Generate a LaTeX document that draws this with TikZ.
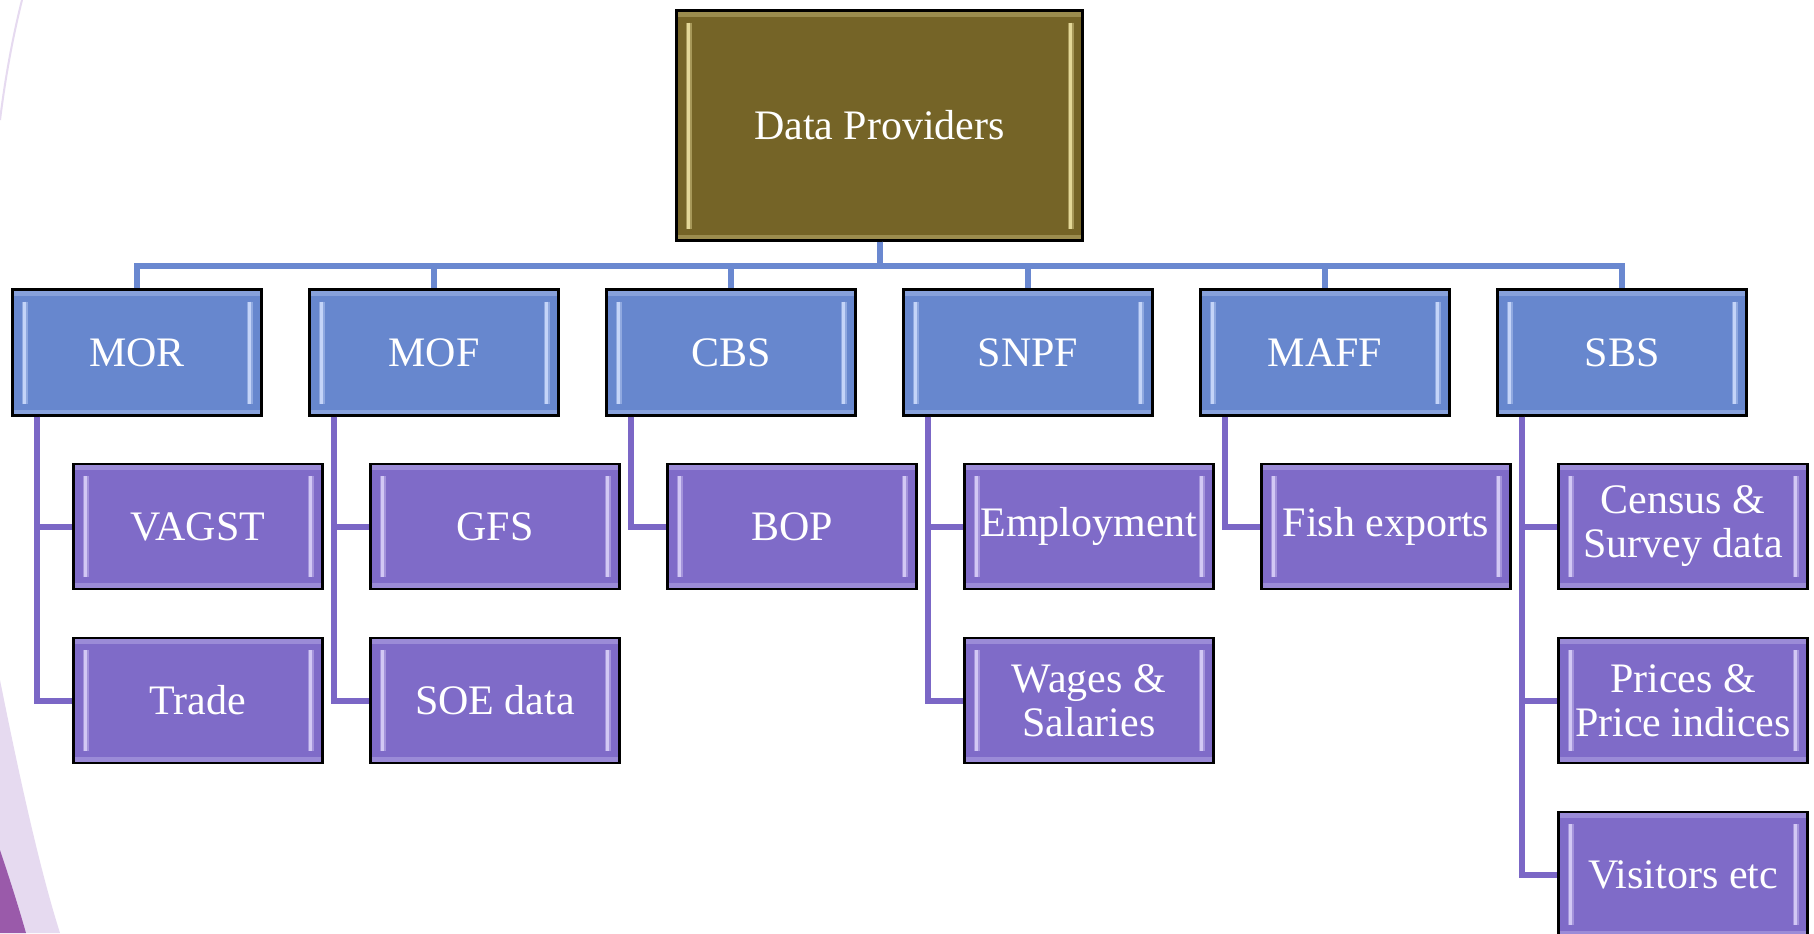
\documentclass[tikz,border=0pt]{standalone}
\usepackage{fontspec}
\setmainfont{Liberation Serif}

\definecolor{rootfill}{HTML}{756427}
\definecolor{rootlight}{HTML}{E4D898}
\definecolor{orgfill}{HTML}{6787CE}
\definecolor{orglight}{HTML}{C4D4F8}
\definecolor{itemfill}{HTML}{7F6BC8}
\definecolor{itemlight}{HTML}{D2C8F4}
\definecolor{busline}{HTML}{6A88D0}
\definecolor{linkline}{HTML}{7B67C6}
\definecolor{swooshlight}{HTML}{E6DAF0}
\definecolor{swooshdark}{HTML}{9A5AAA}

\tikzset{
  % light bevel strips inside the boxes
  bevel/.style={path picture={
    \fill[#1, opacity=.35] (path picture bounding box.north west) rectangle ([yshift=-3pt]path picture bounding box.north east);
    \fill[#1, opacity=.35] (path picture bounding box.south west) rectangle ([yshift=3pt]path picture bounding box.south east);
    \draw[#1, line width=3pt, opacity=.45] ([xshift=6pt,yshift=-6pt]path picture bounding box.north west) -- ([xshift=6pt,yshift=6pt]path picture bounding box.south west);
    \draw[#1, line width=1.2pt] ([xshift=6pt,yshift=-6pt]path picture bounding box.north west) -- ([xshift=6pt,yshift=6pt]path picture bounding box.south west);
    \draw[#1, line width=3pt, opacity=.45] ([xshift=-6pt,yshift=-6pt]path picture bounding box.north east) -- ([xshift=-6pt,yshift=6pt]path picture bounding box.south east);
    \draw[#1, line width=1.2pt] ([xshift=-6pt,yshift=-6pt]path picture bounding box.north east) -- ([xshift=-6pt,yshift=6pt]path picture bounding box.south east);
  }},
  box/.style={draw=black, line width=1.2pt, rectangle, text=white, align=center,
    inner sep=0pt, font=\fontsize{21}{22}\selectfont},
  rootbox/.style={box, fill=rootfill, minimum width=203pt, minimum height=115pt, bevel=rootlight},
  orgbox/.style={box, fill=orgfill, minimum width=124.5pt, minimum height=63pt, bevel=orglight},
  itembox/.style={box, fill=itemfill, minimum width=124.5pt, minimum height=62.5pt, bevel=itemlight},
  bus/.style={draw=busline, line width=3pt},
  link/.style={draw=linkline, line width=3pt}
}

\begin{document}
\begin{tikzpicture}[x=0.5pt, y=-0.5pt, node distance=148.5pt]
  \useasboundingbox[fill=white] (0,0) rectangle (1814,933);

  % purple swoosh at the left edge
  \fill[swooshlight] (0,680) .. controls (20,780) and (40,870) .. (60,933) -- (0,933) -- cycle;
  \fill[swooshdark] (0,850) .. controls (10,880) and (18,905) .. (26,933) -- (0,933) -- cycle;
  \draw[swooshlight, line width=1pt] (22,0) .. controls (12,40) and (5,80) .. (0,120);

  \node[rootbox] (root) at (879.5,125.5) {Data Providers};

  \node[orgbox] (mor) at (137,352.5) {MOR};
  \node[orgbox] (mof) [right of=mor] {MOF};
  \node[orgbox] (cbs) [right of=mof] {CBS};
  \node[orgbox] (snpf) [right of=cbs] {SNPF};
  \node[orgbox] (maff) [right of=snpf] {MAFF};
  \node[orgbox] (sbs) [right of=maff] {SBS};

  \begin{scope}[node distance=87pt]
    \node[itembox] (vagst) [below of=mor, xshift=30.5pt] {VAGST};
    \node[itembox] (trade) [below of=vagst] {Trade};
    \node[itembox] (gfs) [below of=mof, xshift=30.5pt] {GFS};
    \node[itembox] (soe) [below of=gfs] {SOE data};
    \node[itembox] (bop) [below of=cbs, xshift=30.5pt] {BOP};
    \node[itembox] (empl) [below of=snpf, xshift=30.5pt] {Employment};
    \node[itembox] (wages) [below of=empl] {Wages \&\\Salaries};
    \node[itembox] (fish) [below of=maff, xshift=30.5pt] {Fish exports};
    \node[itembox] (census) [below of=sbs, xshift=30.5pt] {Census \&\\Survey data};
    \node[itembox] (prices) [below of=census] {Prices \&\\Price indices};
    \node[itembox] (visitors) [below of=prices] {Visitors etc};
  \end{scope}

  \foreach \n in {mor,mof,cbs,snpf,maff,sbs}
    \draw[bus] (root.south) -- ++(0,24) -| (\n.north);

  \foreach \p/\c in {mor/vagst,mor/trade,mof/gfs,mof/soe,cbs/bop,snpf/empl,snpf/wages,
                     maff/fish,sbs/census,sbs/prices,sbs/visitors}
    \draw[link] ([xshift=13pt]\p.south west) |- (\c.west);
\end{tikzpicture}
\end{document}
